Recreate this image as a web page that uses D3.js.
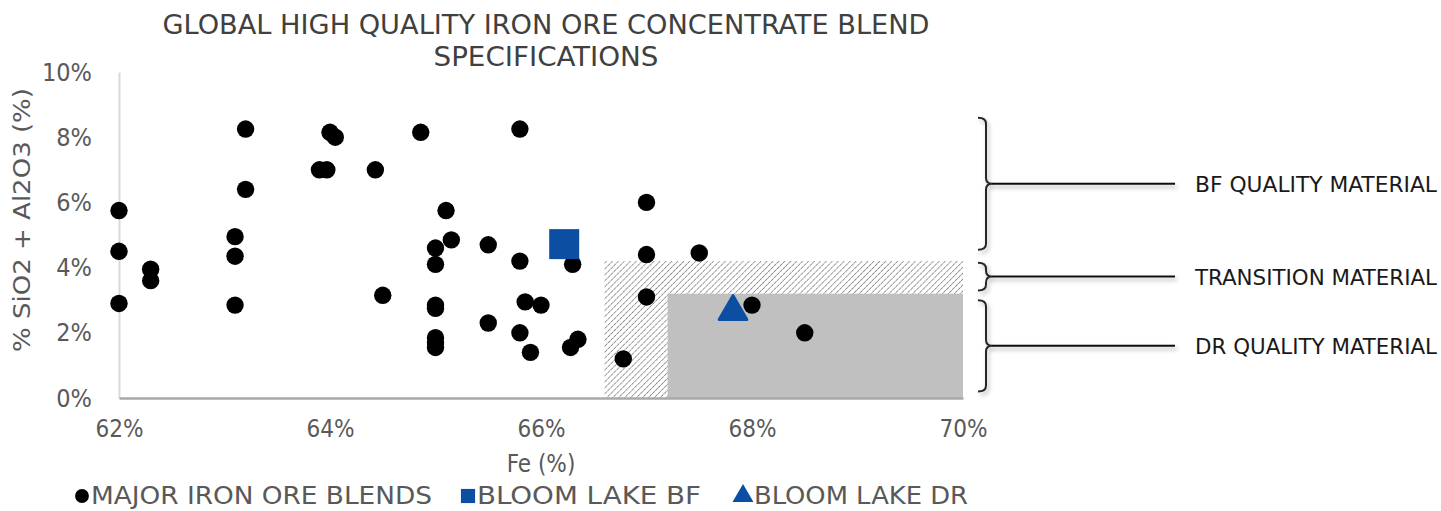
<!DOCTYPE html>
<html>
<head>
<meta charset="utf-8">
<script src="https://cdn.jsdelivr.net/npm/d3@7"></script>
<style>
  body { margin: 0; background: #fff; }
  svg text { font-family: "DejaVu Sans", sans-serif; font-stretch: condensed; }
</style>
</head>
<body>
<div id="chart"></div>
<script>
// Major iron ore blends: Fe (%) and SiO2 + Al2O3 (%)
const blendFe = [62.0, 62.0, 62.0, 62.3, 62.3, 63.1, 63.1, 63.1, 63.2, 63.2,
  63.9, 63.97, 64.0, 64.05, 64.43, 64.5, 64.86, 65.1, 65.0, 65.15,
  65.0, 65.0, 65.0, 65.0, 65.0, 65.0, 65.5, 65.5, 65.8, 65.8,
  65.8, 65.85, 66.0, 65.9, 66.3, 66.28, 66.35, 66.78, 67.0, 67.0,
  67.0, 67.5, 68.0, 68.5];
const blendSiAl = [5.75, 4.5, 2.9, 3.95, 3.6, 4.95, 4.35, 2.85, 8.25, 6.4,
  7.0, 7.0, 8.15, 8.0, 7.0, 3.15, 8.15, 5.75, 4.6, 4.85,
  4.1, 2.85, 2.75, 1.85, 1.7, 1.55, 4.7, 2.3, 8.25, 4.2,
  2.0, 2.95, 2.85, 1.4, 4.1, 1.55, 1.8, 1.2, 6.0, 4.4,
  3.1, 4.45, 2.85, 2.0];

// Bloom Lake products
const bloomBF = [66.22, 4.72];
const bloomDR = [67.82, 2.65];

// Quality zones [FeFrom, FeTo, SiAlTop]
const transitionZone = [66.6, 70, 4.2];
const drZone = [67.2, 70, 3.2];

// Brackets on the right: label, from, to (SiO2 + Al2O3 %)
const bracketLabels = ["BF QUALITY MATERIAL", "TRANSITION MATERIAL", "DR QUALITY MATERIAL"];
const bracketFrom = [4.55, 3.3, 0.2];
const bracketTo = [8.6, 4.15, 3.0];

const xTicks = [62, 64, 66, 68, 70];
const yTicks = [0, 2, 4, 6, 8, 10];
const legendLabels = ["MAJOR IRON ORE BLENDS", "BLOOM LAKE BF", "BLOOM LAKE DR"];

const width = 1441, height = 511;
const blue = "#0b4ea2";

const svg = d3.select("#chart").append("svg")
  .attr("width", width)
  .attr("height", height);

const defs = svg.append("defs");
const hatch = defs.append("pattern")
  .attr("id", "hatch")
  .attr("patternUnits", "userSpaceOnUse")
  .attr("width", 4.2).attr("height", 4.2)
  .attr("patternTransform", "rotate(45)");
hatch.append("rect").attr("width", 4.2).attr("height", 4.2).attr("fill", "#fff");
hatch.append("line")
  .attr("x1", 0).attr("y1", 0).attr("x2", 0).attr("y2", 4.2)
  .attr("stroke", "#7a7a7a").attr("stroke-width", 1.5)
  .attr("stroke-dasharray", "2.2,0.6");

const shadow = defs.append("filter").attr("id", "shadow")
  .attr("x", "-50%").attr("y", "-50%").attr("width", "200%").attr("height", "200%");
shadow.append("feDropShadow")
  .attr("dx", 2).attr("dy", 3).attr("stdDeviation", 2)
  .attr("flood-color", "#000").attr("flood-opacity", 0.3);

const x = d3.scaleLinear().domain([62, 70]).range([119, 963]);
const y = d3.scaleLinear().domain([0, 10]).range([398, 72]);

// Title
const title = svg.append("text")
  .attr("text-anchor", "middle")
  .attr("fill", "#404040")
  .style("font-size", "27px");
title.append("tspan").attr("x", 546).attr("y", 34)
  .attr("textLength", 767).attr("lengthAdjust", "spacingAndGlyphs")
  .text("GLOBAL HIGH QUALITY IRON ORE CONCENTRATE BLEND");
title.append("tspan").attr("x", 546).attr("y", 66)
  .attr("textLength", 225).attr("lengthAdjust", "spacingAndGlyphs")
  .text("SPECIFICATIONS");

// Zones
svg.append("rect")
  .attr("x", x(transitionZone[0]))
  .attr("y", y(transitionZone[2]))
  .attr("width", x(transitionZone[1]) - x(transitionZone[0]))
  .attr("height", y(0) - y(transitionZone[2]))
  .attr("fill", "url(#hatch)");
svg.append("rect")
  .attr("x", x(drZone[0]))
  .attr("y", y(drZone[2]))
  .attr("width", x(drZone[1]) - x(drZone[0]))
  .attr("height", y(0) - y(drZone[2]))
  .attr("fill", "#c0c0c0");

// Axes
const xAxis = svg.append("g")
  .attr("transform", `translate(0,${y(0)})`)
  .call(d3.axisBottom(x).tickValues(xTicks).tickSize(0).tickPadding(22)
    .tickFormat(d => d + "%"));
xAxis.select(".domain").attr("stroke", "#a8a8ae").attr("stroke-width", 2.5);
xAxis.selectAll("text").attr("fill", "#595959").style("font-size", "24px");

const yAxis = svg.append("g")
  .attr("transform", `translate(${x(62)},0)`)
  .call(d3.axisLeft(y).tickValues(yTicks).tickSize(0).tickPadding(27)
    .tickFormat(d => d + "%"));
yAxis.select(".domain").attr("stroke", "#d9d9d9").attr("stroke-width", 2);
yAxis.selectAll("text").attr("fill", "#595959").style("font-size", "25px");
xAxis.raise();

// Axis titles
svg.append("text")
  .attr("x", 541).attr("y", 472)
  .attr("text-anchor", "middle")
  .attr("fill", "#595959")
  .style("font-size", "24px")
  .text("Fe (%)");
svg.append("text")
  .attr("transform", `translate(30,${220}) rotate(-90)`)
  .attr("text-anchor", "middle")
  .attr("fill", "#595959")
  .style("font-size", "23px")
  .attr("textLength", 264).attr("lengthAdjust", "spacingAndGlyphs")
  .text("% SiO2 + Al2O3 (%)");

// Points
const blends = blendFe.map((fe, i) => ({ fe, v: blendSiAl[i] }));
svg.append("g").selectAll("circle")
  .data(blends)
  .join("circle")
  .attr("cx", d => x(d.fe))
  .attr("cy", d => y(d.v))
  .attr("r", 8.7)
  .attr("fill", "#000");

svg.append("path")
  .attr("transform", `translate(${x(bloomBF[0])},${y(bloomBF[1])})`)
  .attr("d", d3.symbol(d3.symbolSquare, 900)())
  .attr("fill", blue);

svg.append("path")
  .attr("transform", `translate(${x(bloomDR[0])},${y(bloomDR[1])})`)
  .attr("d", d3.symbol(d3.symbolTriangle, 330)())
  .attr("fill", blue)
  .attr("stroke", blue)
  .attr("stroke-width", 3)
  .attr("stroke-linejoin", "round");

// Brackets
const bx = 978, bw = 14, lineEnd = 1175;
const brackets = bracketLabels.map((label, i) => ({ label, from: bracketFrom[i], to: bracketTo[i] }));
const bg = svg.append("g").attr("filter", "url(#shadow)");
brackets.forEach(b => {
  const top = y(b.to), bot = y(b.from), mid = (top + bot) / 2;
  const r = Math.min(6, (bot - top) / 4);
  const p = d3.path();
  p.moveTo(bx, top);
  p.quadraticCurveTo(bx + bw - r, top, bx + bw - r, top + r);
  p.lineTo(bx + bw - r, mid - r);
  p.quadraticCurveTo(bx + bw - r, mid, bx + bw, mid);
  p.quadraticCurveTo(bx + bw - r, mid, bx + bw - r, mid + r);
  p.lineTo(bx + bw - r, bot - r);
  p.quadraticCurveTo(bx + bw - r, bot, bx, bot);
  bg.append("path").attr("d", p.toString())
    .attr("fill", "none").attr("stroke", "#262626").attr("stroke-width", 2);
  bg.append("line")
    .attr("x1", bx + bw).attr("x2", lineEnd)
    .attr("y1", mid).attr("y2", mid)
    .attr("stroke", "#111").attr("stroke-width", 2);
  svg.append("text")
    .attr("x", 1195).attr("y", mid + 2)
    .attr("dominant-baseline", "middle")
    .attr("fill", "#1a1a1a")
    .style("font-size", "22px")
    .attr("textLength", 242).attr("lengthAdjust", "spacingAndGlyphs")
    .text(b.label);
});

// Legend
const legend = svg.append("g").attr("transform", "translate(0,496)");
const legendItems = [
  { sym: d3.symbolCircle, size: 150, color: "#000", sx: 82, tx: 91, tw: 341 },
  { sym: d3.symbolSquare, size: 200, color: blue, sx: 468, tx: 477, tw: 224 },
  { sym: d3.symbolTriangle, size: 190, color: blue, sx: 743, tx: 754, tw: 214 }
];
legendItems.forEach((it, i) => {
  legend.append("path")
    .attr("transform", `translate(${it.sx},0)`)
    .attr("d", d3.symbol(it.sym, it.size)())
    .attr("fill", it.color);
  legend.append("text")
    .attr("x", it.tx).attr("y", 1)
    .attr("dominant-baseline", "middle")
    .attr("fill", "#595959")
    .style("font-size", "25px")
    .attr("textLength", it.tw).attr("lengthAdjust", "spacingAndGlyphs")
    .text(legendLabels[i]);
});
</script>
</body>
</html>
